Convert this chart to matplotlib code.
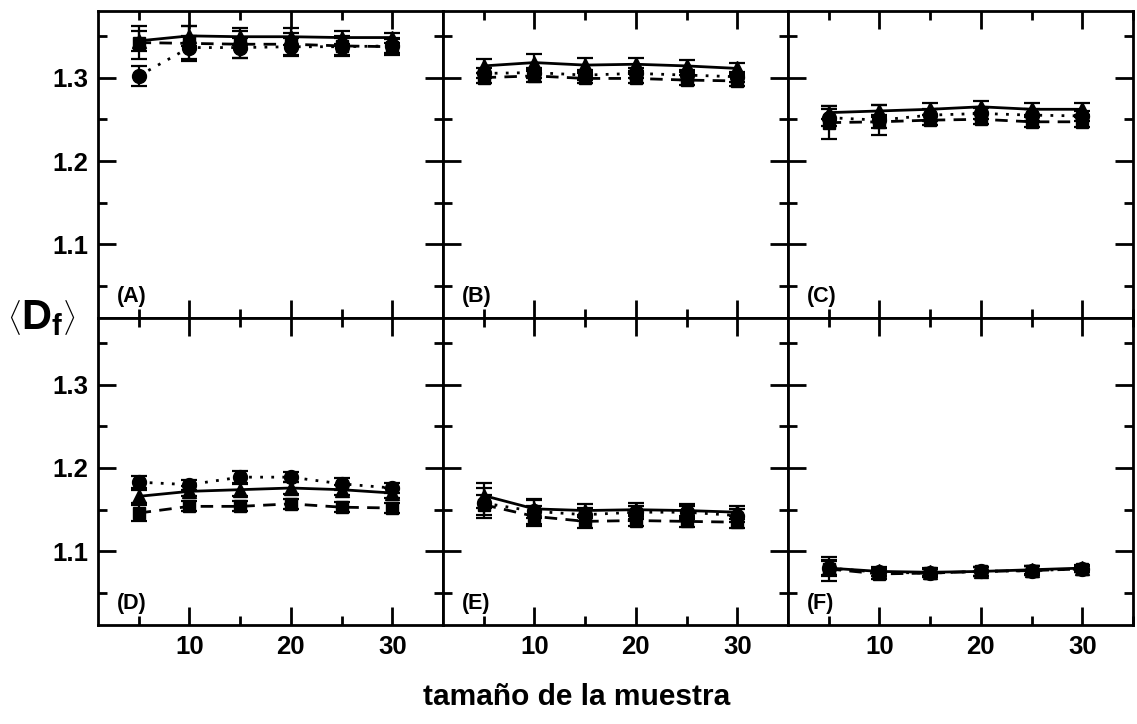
import matplotlib
matplotlib.use("Agg")
import matplotlib.pyplot as plt
from matplotlib.ticker import MultipleLocator, FormatStrFormatter

plt.rcParams["font.family"] = ["Liberation Sans", "DejaVu Sans"]
plt.rcParams["font.weight"] = "bold"
plt.rcParams["mathtext.fontset"] = "custom"
plt.rcParams["mathtext.rm"] = "Liberation Sans"
plt.rcParams["mathtext.bf"] = "Liberation Sans:bold"

sizes = [5, 10, 15, 20, 25, 30]

# panel A
a_tri = [1.344, 1.350, 1.349, 1.349, 1.348, 1.348]
a_tri_err = [0.012, 0.012, 0.010, 0.010, 0.008, 0.006]
a_sq = [1.342, 1.341, 1.340, 1.340, 1.338, 1.337]
a_sq_err = [0.020, 0.021, 0.016, 0.014, 0.012, 0.010]
a_circ = [1.302, 1.336, 1.336, 1.337, 1.337, 1.338]
a_circ_err = [0.012, 0.014, 0.012, 0.010, 0.010, 0.008]

# panel B
b_tri = [1.314, 1.318, 1.315, 1.316, 1.314, 1.311]
b_tri_err = [0.008, 0.010, 0.008, 0.008, 0.007, 0.007]
b_sq = [1.300, 1.302, 1.299, 1.299, 1.297, 1.296]
b_sq_err = [0.006, 0.007, 0.006, 0.006, 0.006, 0.006]
b_circ = [1.305, 1.306, 1.303, 1.305, 1.303, 1.301]
b_circ_err = [0.006, 0.006, 0.006, 0.006, 0.006, 0.006]

# panel C
c_tri = [1.258, 1.260, 1.262, 1.265, 1.262, 1.262]
c_tri_err = [0.008, 0.007, 0.007, 0.007, 0.007, 0.007]
c_sq = [1.246, 1.247, 1.249, 1.250, 1.247, 1.247]
c_sq_err = [0.020, 0.008, 0.006, 0.006, 0.006, 0.006]
c_circ = [1.252, 1.249, 1.255, 1.257, 1.255, 1.254]
c_circ_err = [0.010, 0.018, 0.007, 0.007, 0.007, 0.006]

# panel D
d_tri = [1.166, 1.172, 1.174, 1.176, 1.174, 1.170]
d_tri_err = [0.008, 0.006, 0.007, 0.007, 0.006, 0.006]
d_sq = [1.146, 1.154, 1.154, 1.157, 1.153, 1.152]
d_sq_err = [0.010, 0.006, 0.006, 0.006, 0.006, 0.006]
d_circ = [1.183, 1.180, 1.189, 1.189, 1.181, 1.176]
d_circ_err = [0.007, 0.006, 0.007, 0.006, 0.007, 0.006]

# panel E
e_tri = [1.167, 1.151, 1.149, 1.150, 1.149, 1.147]
e_tri_err = [0.015, 0.011, 0.008, 0.008, 0.008, 0.008]
e_sq = [1.156, 1.142, 1.136, 1.137, 1.136, 1.135]
e_sq_err = [0.012, 0.012, 0.008, 0.007, 0.007, 0.007]
e_circ = [1.158, 1.148, 1.144, 1.147, 1.147, 1.143]
e_circ_err = [0.018, 0.015, 0.008, 0.008, 0.008, 0.008]

# panel F
f_tri = [1.080, 1.076, 1.075, 1.076, 1.078, 1.080]
f_tri_err = [0.010, 0.005, 0.005, 0.005, 0.005, 0.004]
f_sq = [1.079, 1.073, 1.074, 1.076, 1.077, 1.079]
f_sq_err = [0.014, 0.006, 0.005, 0.005, 0.005, 0.004]
f_circ = [1.080, 1.075, 1.074, 1.076, 1.077, 1.079]
f_circ_err = [0.008, 0.005, 0.005, 0.005, 0.005, 0.004]

panel_names = ["(A)", "(B)", "(C)", "(D)", "(E)", "(F)"]
panels = [
    (a_tri, a_tri_err, a_sq, a_sq_err, a_circ, a_circ_err),
    (b_tri, b_tri_err, b_sq, b_sq_err, b_circ, b_circ_err),
    (c_tri, c_tri_err, c_sq, c_sq_err, c_circ, c_circ_err),
    (d_tri, d_tri_err, d_sq, d_sq_err, d_circ, d_circ_err),
    (e_tri, e_tri_err, e_sq, e_sq_err, e_circ, e_circ_err),
    (f_tri, f_tri_err, f_sq, f_sq_err, f_circ, f_circ_err),
]

y_ticks = [1.1, 1.2, 1.3]
x_ticks = [10, 20, 30]

fig, axes = plt.subplots(2, 3, figsize=(11.37, 7.24), dpi=100,
                         sharex=True, sharey=True)
fig.subplots_adjust(left=0.0862, right=0.9965, top=0.985, bottom=0.137,
                    wspace=0, hspace=0)

err_kw = dict(color="black", ecolor="black", elinewidth=1.6, capsize=5.5,
              capthick=1.6, markeredgecolor="black", markerfacecolor="black")

for ax, name, (tri, tri_e, sq, sq_e, circ, circ_e) in zip(axes.flat, panel_names, panels):
    ax.errorbar(sizes, circ, yerr=circ_e, marker="o", ms=10, lw=2,
                linestyle=(0, (1, 3)), **err_kw)
    ax.errorbar(sizes, sq, yerr=sq_e, marker="s", ms=9, lw=2,
                linestyle=(0, (4.5, 3)), **err_kw)
    ax.errorbar(sizes, tri, yerr=tri_e, marker="^", ms=10.5, lw=2,
                linestyle="-", **err_kw)

    ax.set_xlim(1, 35)
    ax.set_ylim(1.012, 1.380)
    ax.set_xticks(x_ticks)
    ax.set_yticks(y_ticks)
    ax.xaxis.set_minor_locator(MultipleLocator(5))
    ax.yaxis.set_minor_locator(MultipleLocator(0.05))
    ax.yaxis.set_major_formatter(FormatStrFormatter("%.1f"))
    ax.tick_params(which="both", direction="in", top=True, right=True,
                   width=2, labelsize=18.5, pad=7)
    ax.tick_params(which="major", length=13)
    ax.tick_params(which="minor", length=6.5)
    for sp in ax.spines.values():
        sp.set_linewidth(2)
    ax.text(0.055, 0.07, name, transform=ax.transAxes, fontsize=15.5,
            fontweight="bold", va="center", ha="left")

for ax in axes[0]:
    ax.tick_params(labelbottom=False)
for ax in axes[:, 1:].flat:
    ax.tick_params(labelleft=False)
for ax in axes.flat:
    for lbl in ax.get_xticklabels() + ax.get_yticklabels():
        lbl.set_fontweight("bold")

fig.text(0.036, 0.56, r"$\left\langle\mathbf{D}_\mathbf{f}\right\rangle$",
         fontsize=30, ha="center", va="center")
fig.text(0.507, 0.037, "tamaño de la muestra", fontsize=21.5,
         fontweight="bold", ha="center", va="center")

fig.savefig("out.png", dpi=100)
